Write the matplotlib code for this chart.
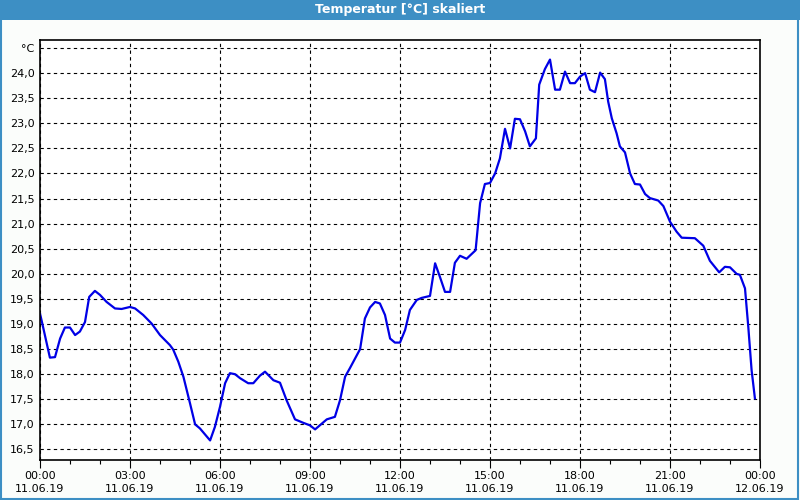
import numpy as np
import matplotlib
matplotlib.use("Agg")
import matplotlib.pyplot as plt
from matplotlib.patches import Rectangle


# data (hours since 11.06.19 00:00, temperature in degC)
hours = [0.0, 0.08, 0.33, 0.5, 0.67, 0.83, 1.0, 1.17, 1.33, 1.5, 1.64, 1.83, 2.0,
         2.22, 2.5, 2.72, 3.0, 3.17, 3.44, 3.72, 4.0, 4.33, 4.44, 4.61, 4.78, 5.0,
         5.17, 5.33, 5.67, 5.83, 6.0, 6.17, 6.33, 6.5, 6.67, 6.94, 7.11, 7.33, 7.5,
         7.78, 8.0, 8.22, 8.5, 8.78, 9.0, 9.17, 9.56, 9.83, 10.0, 10.17, 10.33,
         10.67, 10.83, 11.0, 11.17, 11.33, 11.5, 11.67, 11.83, 12.0, 12.17, 12.33,
         12.56, 12.72, 13.0, 13.17, 13.33, 13.5, 13.67, 13.83, 14.0, 14.22, 14.52,
         14.67, 14.83, 15.0, 15.17, 15.33, 15.5, 15.67, 15.83, 16.0, 16.17, 16.33,
         16.53, 16.64, 16.83, 17.0, 17.17, 17.33, 17.5, 17.67, 17.83, 18.0, 18.17,
         18.33, 18.5, 18.67, 18.83, 18.94, 19.06, 19.22, 19.33, 19.5, 19.67, 19.83,
         20.0, 20.17, 20.33, 20.61, 20.78, 21.0, 21.22, 21.39, 21.83, 22.11, 22.33,
         22.64, 22.83, 23.0, 23.22, 23.33, 23.5, 23.61, 23.72, 23.83]
temps = [19.21, 19.0, 18.33, 18.34, 18.71, 18.93, 18.93, 18.78, 18.85, 19.04, 19.54,
         19.66, 19.58, 19.44, 19.31, 19.30, 19.34, 19.31, 19.18, 19.01, 18.78, 18.58,
         18.49, 18.25, 17.95, 17.42, 17.0, 16.92, 16.68, 16.95, 17.35, 17.82, 18.02,
         18.0, 17.92, 17.82, 17.82, 17.97, 18.05, 17.88, 17.83, 17.48, 17.10, 17.03,
         16.98, 16.90, 17.10, 17.15, 17.48, 17.95, 18.12, 18.50, 19.11, 19.33, 19.44,
         19.41, 19.18, 18.71, 18.63, 18.63, 18.88, 19.28, 19.48, 19.52, 19.56, 20.21,
         19.94, 19.64, 19.64, 20.22, 20.36, 20.30, 20.47, 21.41, 21.79, 21.81, 22.0,
         22.30, 22.89, 22.50, 23.09, 23.08, 22.84, 22.54, 22.70, 23.77, 24.08, 24.27,
         23.67, 23.67, 24.03, 23.80, 23.80, 23.93, 24.0, 23.67, 23.62, 24.01, 23.88,
         23.43, 23.10, 22.80, 22.54, 22.42, 22.0, 21.79, 21.78, 21.59, 21.51, 21.46,
         21.35, 21.04, 20.84, 20.72, 20.71, 20.56, 20.26, 20.03, 20.14, 20.13, 20.0,
         19.98, 19.71, 18.94, 18.08, 17.52]

xticks = [0, 3, 6, 9, 12, 15, 18, 21, 24]
xlabels = ["00:00\n11.06.19", "03:00\n11.06.19", "06:00\n11.06.19", "09:00\n11.06.19",
           "12:00\n11.06.19", "15:00\n11.06.19", "18:00\n11.06.19", "21:00\n11.06.19",
           "00:00\n12.06.19"]
yticks = [16.5, 17.0, 17.5, 18.0, 18.5, 19.0, 19.5, 20.0, 20.5, 21.0, 21.5, 22.0,
          22.5, 23.0, 23.5, 24.0, 24.5]
ylabels = ["16,5", "17,0", "17,5", "18,0", "18,5", "19,0", "19,5", "20,0", "20,5",
           "21,0", "21,5", "22,0", "22,5", "23,0", "23,5", "24,0", "°C"]

title = "Temperatur [°C] skaliert"

fig = plt.figure(figsize=(8, 5), dpi=100, facecolor="#fbfdfb")

# title bar + frame
fig.patches.append(Rectangle((0, 0.96), 1, 0.04, transform=fig.transFigure,
                             facecolor="#3d8fc4", edgecolor="none"))
fig.patches.append(Rectangle((0.001, 0.002), 0.997, 0.997, transform=fig.transFigure,
                             facecolor="none", edgecolor="#3d8fc4", lw=1.5))
fig.text(0.5, 0.98, title, color="white", fontsize=9, fontweight="bold",
         ha="center", va="center")

ax = fig.add_axes([0.05, 0.08, 0.9, 0.84])
ax.set_facecolor("white")
ax.plot(hours, temps, color="#0000e6", lw=1.6)

ax.set_xlim(0, 24)
ax.set_ylim(16.29, 24.66)
ax.set_xticks(xticks)
ax.set_xticklabels(xlabels, fontsize=8, linespacing=1.35)
ax.set_xticks(np.arange(0, 25, 1), minor=True)
ax.set_yticks(yticks)
ax.set_yticklabels(ylabels, fontsize=8)

ax.grid(True, which="major", color="black", linestyle=(0, (3, 3)), lw=0.8)
ax.tick_params(axis="x", which="major", length=6, width=0.8, pad=2)
ax.tick_params(axis="x", which="minor", length=3, width=0.8)
ax.tick_params(axis="y", length=0, pad=4)
for s in ax.spines.values():
    s.set_linewidth(1.2)
    s.set_color("black")

fig.savefig("out.png", dpi=100, facecolor=fig.get_facecolor())
